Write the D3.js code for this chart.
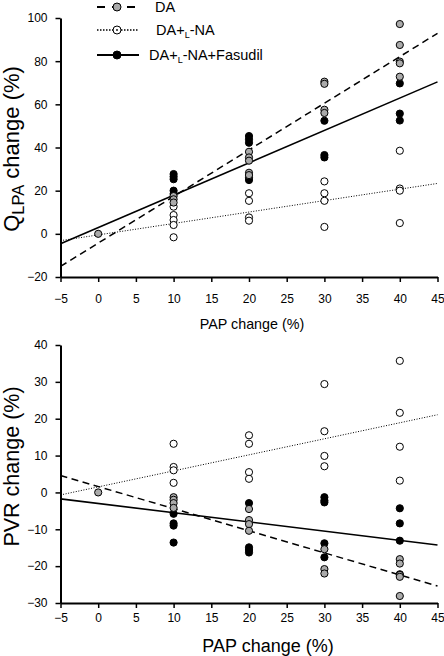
<!DOCTYPE html>
<html><head><meta charset="utf-8">
<script src="https://cdn.jsdelivr.net/npm/d3@7"></script>
<style>
body{margin:0;background:#fff}
svg{display:block}
text{font-family:"Liberation Sans",Arial,sans-serif;fill:#000}
</style>
</head><body><svg id="c" width="444" height="656"></svg>
<script>
// ---- data ----
const xTicks = [-5,0,5,10,15,20,25,30,35,40,45];
const qTicks = [-20,0,20,40,60,80,100];
const pvrTicks = [-30,-20,-10,0,10,20,30,40];
const groups = ["DA","DA+L-NA","DA+L-NA+Fasudil"];

// top panel: QLPA change (%) vs PAP change (%)
const qDA  = [[0,0],[10,17.5],[10,16],[10,14.5],[20,38],[20,35.4],[20,33.9],[20,28.3],[20,27.2],
              [30,70.5],[30,69.5],[30,57.5],[30,56],[40,97.2],[40,87.5],[40,79.8],[40,79],[40,72.8]];
const qLNA = [[10,12.6],[10,8.7],[10,6.4],[10,4.1],[10,-1.6],[20,18.8],[20,15.3],[20,7.6],[20,6.1],
              [30,24.3],[30,18.8],[30,15.3],[30,3.2],[40,38.5],[40,21],[40,20],[40,5]];
const qFas = [[10,27.7],[10,26.5],[10,25.3],[10,20],[10,18.5],[20,45.3],[20,43.8],[20,42.2],[20,26.2],[20,24.9],
              [30,52.4],[30,36.5],[30,35.4],[40,69.7],[40,55.7],[40,52.5]];
// regression lines [intercept, slope]
const qFitDA  = [-4.3, 2.16];
const qFitLNA = [-0.5, 0.53];
const qFitFas = [2.9, 1.5];

// bottom panel: PVR change (%) vs PAP change (%)
const pDA  = [[0,0],[10,-1.3],[10,-2.0],[10,-2.9],[10,-4.2],[20,-4.5],[20,-7.5],[20,-8.6],[20,-10.4],
              [30,-15.4],[30,-20.8],[30,-22],[40,-18.1],[40,-19.3],[40,-22.4],[40,-22.9],[40,-28.1]];
const pLNA = [[10,13.2],[10,6.9],[10,6.0],[10,2.6],[20,15.5],[20,13.2],[20,5.5],[20,3.7],
              [30,29.4],[30,16.6],[30,9.9],[30,7.1],[40,35.7],[40,21.6],[40,12.4],[40,3.2]];
const pFas = [[10,-5.8],[10,-8.4],[10,-9.0],[10,-13.6],[20,-2.9],[20,-14.9],[20,-15.6],[20,-16.3],
              [30,-1.3],[30,-2.2],[30,-2.7],[30,-13.8],[30,-17.6],[40,-4.3],[40,-8.4],[40,-13.1],[40,-22.2]];
const pFitDA  = [1.6, -0.60];
const pFitLNA = [1.5, 0.435];
const pFitFas = [-3.0, -0.25];

// ---- styles ----
const fills = {DA:"#aaaaaa", LNA:"#ffffff", Fas:"#000000"};
const dashes = {DA:"7,4.5", LNA:"1,1.6", Fas:null};
const widths = {DA:1.5, LNA:1, Fas:1.6};

const svg = d3.select("#c");
const x = d3.scaleLinear().domain([-5,45]).range([60.5,437.5]);
const yq = d3.scaleLinear().domain([-20,100]).range([277,18]);
const yp = d3.scaleLinear().domain([-30,40]).range([603,345]);

function styleAxis(g){
  g.select(".domain").attr("stroke","#000").attr("stroke-width",2);
  g.selectAll(".tick line").attr("stroke","#000").attr("stroke-width",1.5);
  g.selectAll(".tick text").attr("font-size","12px").attr("fill","#000")
   .attr("font-family",'"Liberation Sans",Arial,sans-serif');
}

function panel(y, yTicks, xPad, sets, fits){
  const gx = svg.append("g").attr("transform",`translate(0,${y.range()[0]})`)
    .call(d3.axisBottom(x).tickValues(xTicks).tickSize(5).tickSizeOuter(0).tickPadding(xPad)
      .tickFormat(d3.format("d")));
  styleAxis(gx);
  const gy = svg.append("g").attr("transform",`translate(${x.range()[0]},0)`)
    .call(d3.axisLeft(y).tickValues(yTicks).tickSize(5).tickSizeOuter(0).tickPadding(8)
      .tickFormat(d3.format("d")));
  styleAxis(gy);
  // regression lines
  fits.forEach(([k,f])=>{
    svg.append("line")
      .attr("x1",x(-5)).attr("y1",y(f[0]+f[1]*-5))
      .attr("x2",x(45)).attr("y2",y(f[0]+f[1]*45))
      .attr("stroke","#000").attr("stroke-width",widths[k])
      .attr("stroke-dasharray",dashes[k]);
  });
  // points
  sets.forEach(([k,pts])=>{
    svg.append("g").selectAll("circle").data(pts).join("circle")
      .attr("cx",d=>x(d[0])).attr("cy",d=>y(d[1])).attr("r",3.6)
      .attr("fill",fills[k]).attr("stroke","#000").attr("stroke-width",1);
  });
}

panel(yq, qTicks, 12, [["LNA",qLNA],["Fas",qFas],["DA",qDA]],
      [["DA",qFitDA],["LNA",qFitLNA],["Fas",qFitFas]]);
panel(yp, pvrTicks, 5, [["LNA",pLNA],["Fas",pFas],["DA",pDA]],
      [["DA",pFitDA],["LNA",pFitLNA],["Fas",pFitFas]]);

// axis titles
svg.append("text").attr("x",252).attr("y",328.5).attr("text-anchor","middle")
  .attr("font-size","14.3px").text("PAP change (%)");
svg.append("text").attr("x",268).attr("y",651.5).attr("text-anchor","middle")
  .attr("font-size","18px").text("PAP change (%)");

const tq = svg.append("text").attr("transform","translate(19,149) rotate(-90)")
  .attr("text-anchor","middle").attr("font-size","22px");
tq.append("tspan").text("Q");
tq.append("tspan").attr("font-size","16.5px").attr("dy",4.5).text("LPA");
tq.append("tspan").attr("dy",-4.5).text(" change (%)");

svg.append("text").attr("transform","translate(19,466.5) rotate(-90)")
  .attr("text-anchor","middle").attr("font-size","21.5px").text("PVR change (%)");

// legend
const legKeys = ["DA","LNA","Fas"];
const legY = [7,30,55];
const legTX = [155,156,149];
legKeys.forEach((k,i)=>{
  const g = svg.append("g");
  g.append("line").attr("x1",97).attr("x2",139).attr("y1",legY[i]).attr("y2",legY[i])
    .attr("stroke","#000").attr("stroke-width",k==="LNA"?1.5:2)
    .attr("stroke-dasharray",k==="DA"?"8,7":(k==="LNA"?"1.5,1.5":null));
  g.append("circle").attr("cx",117).attr("cy",legY[i]).attr("r",4)
    .attr("fill",fills[k]).attr("stroke","#000").attr("stroke-width",1);
  if(k==="LNA") g.append("circle").attr("cx",117).attr("cy",legY[i]).attr("r",0.9).attr("fill","#000");
  const t = g.append("text").attr("x",legTX[i]).attr("y",legY[i]+5).attr("font-size","14.5px");
  if(k==="DA"){ t.text(groups[0]); }
  else {
    t.append("tspan").text("DA+");
    t.append("tspan").attr("font-size","9px").attr("dy",3).text("L");
    t.append("tspan").attr("dy",-3).text(k==="LNA" ? "-NA" : "-NA+Fasudil");
  }
});
</script>
</body></html>
